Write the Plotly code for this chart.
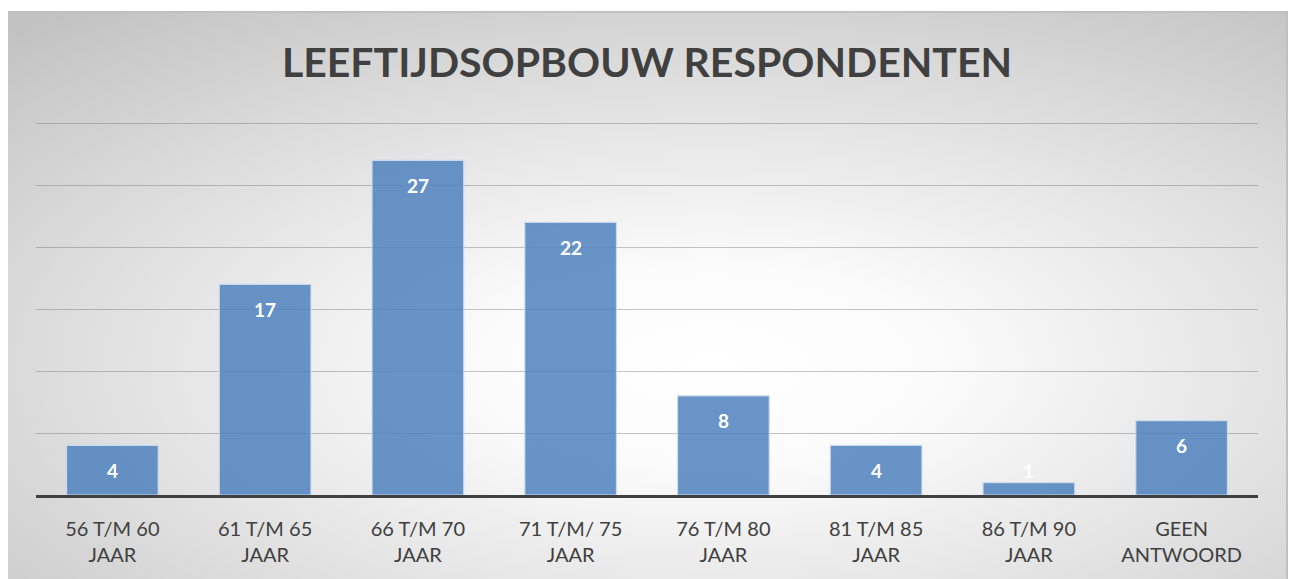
import base64

import plotly.graph_objects as go

# data
categories = [
    "56 T/M 60<br>JAAR",
    "61 T/M 65<br>JAAR",
    "66 T/M 70<br>JAAR",
    "71 T/M/ 75<br>JAAR",
    "76 T/M 80<br>JAAR",
    "81 T/M 85<br>JAAR",
    "86 T/M 90<br>JAAR",
    "GEEN<br>ANTWOORD",
]
counts = [4, 17, 27, 22, 8, 4, 1, 6]
title_text = "LEEFTIJDSOPBOUW RESPONDENTEN"

# the page body adds an 8px margin, so the figure is drawn 8px smaller
W, H = 1282, 571
Y_MAX = 30.5
# plot area in pixels (figure coordinates); value 30 lands on y=115
L, R, B = 28, 1250, 487
T = round(B - 372 * Y_MAX / 30)
# chart box (gradient background) in pixels
BX0, BX1, BY0, BY1 = -2, 1280, 3, 575

FONT = "Lato, 'Open Sans', sans-serif"
TEXT_COLOR = "#404040"

bw, bh = BX1 - BX0, BY1 - BY0
svg = f"""<svg xmlns="http://www.w3.org/2000/svg" width="{bw}" height="{bh}" viewBox="0 0 {bw} {bh}">
<defs><radialGradient id="g" cx="0.55" cy="0.62" r="0.8" gradientUnits="objectBoundingBox">
<stop offset="0" stop-color="#ffffff"/>
<stop offset="0.22" stop-color="#fbfbfb"/>
<stop offset="0.6" stop-color="#e0e0e0"/>
<stop offset="1" stop-color="#c2c2c2"/>
</radialGradient></defs>
<rect x="0" y="0" width="{bw}" height="{bh}" fill="url(#g)"/>
<rect x="1" y="1" width="{bw - 2}" height="{bh + 4}" fill="none" stroke="#c0c0c0" stroke-width="2"/>
</svg>"""
svg_uri = "data:image/svg+xml;base64," + base64.b64encode(svg.encode()).decode()

pw, ph = R - L, B - T

fig = go.Figure(
    go.Bar(
        x=categories,
        y=counts,
        marker=dict(
            color="rgba(79,129,189,0.85)",
            line=dict(color="rgba(205,220,238,0.9)", width=1.2),
        ),
        hoverinfo="x+y",
    )
)

# data labels inside end of each bar, clamped for very short bars
for cat, v in zip(categories, counts):
    fig.add_annotation(
        x=cat,
        y=max(v, 4),
        yshift=-25,
        text=f"<b>{v}</b>",
        showarrow=False,
        yanchor="middle",
        font=dict(family=FONT, size=19, color="white"),
    )

fig.add_layout_image(
    source=svg_uri,
    xref="paper",
    yref="paper",
    x=(BX0 - L) / pw,
    y=(B - BY0) / ph,
    sizex=bw / pw,
    sizey=bh / ph,
    xanchor="left",
    yanchor="top",
    sizing="stretch",
    layer="below",
)

fig.update_layout(
    width=W,
    height=H,
    margin=dict(l=L, r=W - R, t=T, b=H - B),
    paper_bgcolor="white",
    plot_bgcolor="rgba(0,0,0,0)",
    bargap=0.4,
    showlegend=False,
    title=dict(
        text=f"<b>{title_text}</b>",
        x=(BX0 + BX1) / 2 / W,
        xanchor="center",
        y=1 - 55 / H,
        yanchor="middle",
        yref="container",
        font=dict(family=FONT, size=41, color=TEXT_COLOR),
    ),
    font=dict(family=FONT, color=TEXT_COLOR),
)
fig.update_xaxes(
    showline=True,
    linecolor="#404040",
    linewidth=3,
    showgrid=False,
    ticks="",
    ticklabelstandoff=14,
    tickfont=dict(family=FONT, size=20, color=TEXT_COLOR),
)
fig.update_yaxes(
    range=[0, Y_MAX],
    dtick=5,
    showticklabels=False,
    showgrid=True,
    gridcolor="rgba(110,110,110,0.4)",
    gridwidth=1,
    zeroline=False,
    showline=False,
)

fig.write_html("out.html")
